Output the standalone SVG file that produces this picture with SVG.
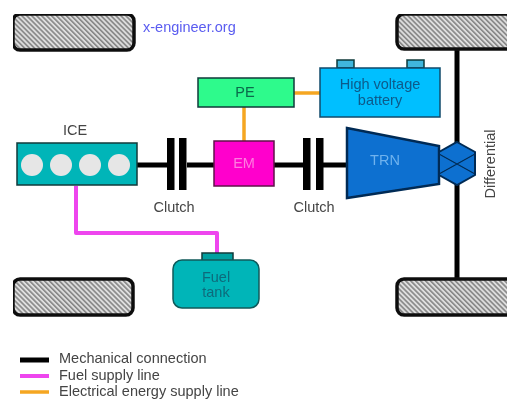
<svg xmlns="http://www.w3.org/2000/svg" width="507" height="399" viewBox="0 0 507 399">
<style>
text{font-family:"Liberation Sans",Arial,sans-serif;font-size:14.5px;text-anchor:middle;fill:#444}
.l{text-anchor:start}
.tire{fill:url(#hatch);stroke:#111;stroke-width:3.5}
.mech{stroke:#000;stroke-width:5;fill:none}
.fuel{stroke:#ee44ee;stroke-width:4;fill:none;stroke-linejoin:round}
.elec{stroke:#f5a623;stroke-width:3.500;fill:none}
.box{stroke:#0b3b3b;stroke-width:1.500}
.cyl{fill:#e6e6e6}
.cl{fill:#000}
</style>
<defs>
<pattern id="hatch" width="3.500" height="3.500" patternUnits="userSpaceOnUse" patternTransform="rotate(-45)">
<rect width="3.500" height="3.500" fill="#dedede"/><rect width="1.600" height="3.500" fill="#858585"/>
</pattern>
<filter id="soft" x="0" y="0" width="100%" height="100%"><feGaussianBlur stdDeviation="0.6"/></filter>
</defs>
<rect width="507" height="399" fill="#fff"/>
<g filter="url(#soft)">
<g id="connectors">
<path class="mech" d="M457 48V282"/>
<path class="mech" d="M137 165H167M187 165H214"/>
<path class="mech" d="M274 165H304M322 165H347"/>
<path class="fuel" d="M76 186V233H217V253"/>
<path class="elec" d="M244 107V141"/>
<path class="elec" d="M294 93H320"/>
</g>
<g id="clutch1"><rect class="cl" x="167" y="138" width="7.500" height="52"/><rect class="cl" x="179" y="138" width="7.500" height="52"/><text x="174" y="212">Clutch</text></g>
<g id="clutch2"><rect class="cl" x="303" y="138" width="7.500" height="52"/><rect class="cl" x="316" y="138" width="7.500" height="52"/><text x="314" y="212">Clutch</text></g>
<g id="tire-fl"><rect class="tire" x="13" y="14" width="121" height="36" rx="7"/></g>
<g id="tire-fr"><rect class="tire" x="397" y="14" width="125" height="35" rx="7"/></g>
<g id="tire-rl"><rect class="tire" x="13" y="279" width="120" height="36" rx="7"/></g>
<g id="tire-rr"><rect class="tire" x="397" y="279" width="125" height="36" rx="7"/></g>
<text class="l" x="143" y="32" style="fill:#5a5cf0">x-engineer.org</text>
<g id="ice"><text x="75" y="135">ICE</text><rect class="box" x="17" y="143" width="120" height="42" fill="#00b5b8"/>
<circle class="cyl" cx="32" cy="165" r="11"/><circle class="cyl" cx="61" cy="165" r="11"/><circle class="cyl" cx="90" cy="165" r="11"/><circle class="cyl" cx="119" cy="165" r="11"/></g>
<g id="pe"><rect class="box" x="198" y="78" width="96" height="29" fill="#2dfa8c"/><text x="245" y="97" style="fill:#0b6b4b">PE</text></g>
<g id="em"><rect x="214" y="141" width="60" height="45" fill="#ff00cc" stroke="#60104a" stroke-width="1.500"/><text x="244" y="168" style="fill:#ff7be0">EM</text></g>
<g id="battery"><rect class="box" x="337" y="60" width="17" height="8" fill="#3fb6dd"/><rect class="box" x="407" y="60" width="17" height="8" fill="#3fb6dd"/>
<rect x="320" y="68" width="120" height="49" fill="#00bfff" stroke="#0b4a6b" stroke-width="1.500"/><text x="380" y="89" style="fill:#0b5a8a">High voltage</text><text x="380" y="105" style="fill:#0b5a8a">battery</text></g>
<g id="trn"><path d="M347 128L439 146V184L347 198Z" fill="#0a70d0" stroke="#062c55" stroke-width="2.500"/><text x="385" y="165" style="fill:#6fb2ee">TRN</text></g>
<g id="differential"><path d="M457 142L475 152V175L457 185L439 175V152Z" fill="#0a70d0" stroke="#062c55" stroke-width="2"/><path d="M439 154L475 174M475 154L439 174" stroke="#062c55" stroke-width="1.200"/><text transform="translate(495 164) rotate(-90)">Differential</text></g>
<g id="tank"><rect class="box" x="202" y="253" width="31" height="8" fill="#00a0a0"/><rect x="173" y="260" width="86" height="48" rx="9" fill="#00b5b8" stroke="#0b5a5a" stroke-width="1.500"/><text x="216" y="282" style="fill:#0b6b7b">Fuel</text><text x="216" y="297" style="fill:#0b6b7b">tank</text></g>
<g id="legend">
<path class="mech" d="M20 360H49"/><path class="fuel" d="M20 376H49"/><path class="elec" d="M20 392H49"/>
<text class="l" x="59" y="363">Mechanical connection</text><text class="l" x="59" y="380">Fuel supply line</text><text class="l" x="59" y="396">Electrical energy supply line</text>
</g>
</g>
</svg>
